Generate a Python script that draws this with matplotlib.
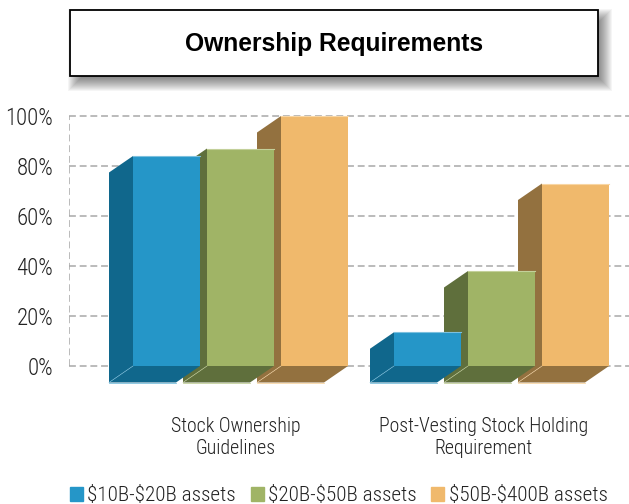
import matplotlib
matplotlib.use("Agg")
import matplotlib.pyplot as plt
from matplotlib.patches import Patch, Polygon, Rectangle
import numpy as np

plt.rcParams["font.family"] = ["Roboto Condensed", "Liberation Sans", "DejaVu Sans"]
plt.rcParams["font.weight"] = 300
plt.rcParams["text.parse_math"] = False

categories = ["Stock Ownership\nGuidelines", "Post-Vesting Stock Holding\nRequirement"]
series_names = ["$10B-$20B assets", "$20B-$50B assets", "$50B-$400B assets"]
small_assets = [84, 13.5]
mid_assets = [87, 38]
large_assets = [100, 73]
y_ticks = [0, 20, 40, 60, 80, 100]
y_labels = ["0%", "20%", "40%", "60%", "80%", "100%"]

front_colors = ["#2596c8", "#a0b466", "#f0b96c"]
side_colors = ["#10678c", "#5f6f3c", "#93713f"]
edge_colors = ["#7cc0de", "#c3d09a", "#f8d6a4"]

W, H = 629, 504
fig = plt.figure(figsize=(W / 100, H / 100), dpi=100, facecolor="white")

# axes: left edge at the dashed axis, y 0-100 spans the gridlines
ax_left, ax_right = 68.5, 629
ax_top, ax_bottom = 116, 366 + 17.5
ax = fig.add_axes([ax_left / W, 1 - ax_bottom / H, (ax_right - ax_left) / W, (ax_bottom - ax_top) / H])

group_px = 261.0
x0_px = 240.5
ax.set_xlim((ax_left - x0_px) / group_px, (ax_right - x0_px) / group_px)
ax.set_ylim(-7, 100)

bar_w = 67 / group_px
bar_step = 74 / group_px
dx = 24 / group_px
dy = 6.6

for y in y_ticks:
    ax.plot(ax.get_xlim(), [y, y], color="#a8a8a8", lw=1.1, ls=(0, (4.5, 2.5)), zorder=1, clip_on=False)
ax.plot([ax.get_xlim()[0]] * 2, [0, 100], color="#a8a8a8", lw=1.1, ls=(0, (4.5, 2.5)), zorder=1)

series = [small_assets, mid_assets, large_assets]
z = 2
# back to front: the large series sits behind, the small one in front
for g in range(len(categories)):
    for s in [2, 1, 0]:
        h = series[s][g]
        x0 = g + (s - 1) * bar_step - bar_w / 2
        x1 = x0 + bar_w
        side = Polygon([(x0, 0), (x0, h), (x0 - dx, h - dy), (x0 - dx, -dy)],
                       fc=side_colors[s], ec="none", zorder=z)
        floor = Polygon([(x0, 0), (x1, 0), (x1 - dx, -dy), (x0 - dx, -dy)],
                        fc=side_colors[s], ec="none", zorder=z)
        ax.add_patch(side)
        ax.add_patch(floor)
        ax.plot([x0 - dx, x1 - dx], [-dy, -dy], color=edge_colors[s], lw=0.6, zorder=z + 0.1, clip_on=False)
        ax.plot([x0 - dx, x0], [-dy, 0], color=edge_colors[s], lw=0.5, alpha=0.8, zorder=z + 0.1)
        ax.bar(x0, h, bar_w, align="edge", color=front_colors[s], zorder=z + 0.2)
        ax.plot([x0, x1], [h, h], color=edge_colors[s], lw=0.8, zorder=z + 0.3, clip_on=False)
        z += 1

for spine in ax.spines.values():
    spine.set_visible(False)

ax.set_yticks(y_ticks)
ax.set_yticklabels(y_labels, fontsize=16.4, color="#222222")
ax.tick_params(axis="y", length=0, pad=11)
ax.set_xticks([-0.017, 0.931])
ax.set_xticklabels(categories, fontsize=14.3, color="#222222", linespacing=1.2)
ax.tick_params(axis="x", length=0, pad=24)

handles = [Patch(color=c, label=n) for c, n in zip(front_colors, series_names)]
fig.legend(handles=handles, loc="lower left", bbox_to_anchor=(53 / W, -18 / H), ncol=3, frameon=False,
           fontsize=15.2, handlelength=0.62, handleheight=0.62, handletextpad=0.2, columnspacing=0.7,
           labelcolor="#222222", borderpad=0.3)

# title box with a soft drop shadow
over = fig.add_axes([0, 0, 1, 1], zorder=-1)
over.set_xlim(0, W)
over.set_ylim(H, 0)
over.axis("off")
box_x, box_y, box_w, box_h = 70, 10, 528, 66
for grow in np.arange(9, -9, -1.0):
    over.add_patch(Rectangle((box_x + 6 - grow + 1, box_y + 7 - grow + 1), box_w + 2 * grow - 2, box_h + 2 * grow - 2,
                             fc="black", ec="none", alpha=0.04))
over.add_patch(Rectangle((box_x, box_y), box_w, box_h, fc="white", ec="black", lw=1.3))
over.text(box_x + box_w / 2 + 0.5, 43.5, "Ownership Requirements", ha="center", va="center",
          fontsize=17.7, fontweight="bold", family=["Liberation Sans", "DejaVu Sans"], color="black")

fig.savefig("out.png", dpi=100)
